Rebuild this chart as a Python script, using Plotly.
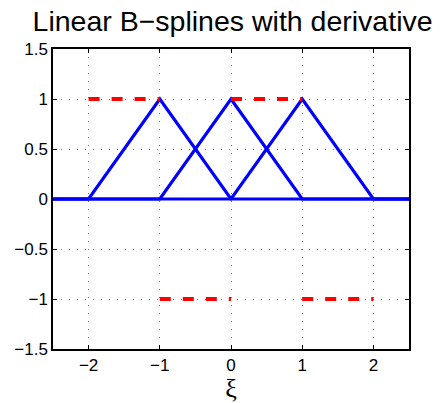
import numpy as np
import plotly.graph_objects as go

# knots and hat-function centres
xi = [-2.5, -2, -1, 0, 1, 2, 2.5]
centres = [-1, 0, 1]
hats = {
    -1: [0, 0, 1, 0, 0, 0, 0],
    0: [0, 0, 0, 1, 0, 0, 0],
    1: [0, 0, 0, 0, 1, 0, 0],
}
# piecewise-constant derivatives (shown for the outer splines)
deriv_x = [[-2, -1], [-1, 0], [0, 1], [1, 2]]
deriv_y = [[1, 1], [-1, -1], [1, 1], [-1, -1]]

x_ticks = [-2, -1, 0, 1, 2]
x_ticktext = ["\u22122", "\u22121", "0", "1", "2"]
y_ticks = [-1.5, -1, -0.5, 0, 0.5, 1, 1.5]
y_ticktext = ["\u22121.5", "\u22121", "\u22120.5", "0", "0.5", "1", "1.5"]

fig = go.Figure()
for c in centres:
    fig.add_trace(go.Scatter(x=xi, y=hats[c], mode="lines",
                             line=dict(color="#0000ff", width=3.2),
                             showlegend=False, hoverinfo="skip"))
for dx, dy in zip(deriv_x, deriv_y):
    fig.add_trace(go.Scatter(x=dx, y=dy, mode="lines",
                             line=dict(color="#ff0000", width=4, dash="11px,12px"),
                             showlegend=False, hoverinfo="skip"))

axis_common = dict(
    showline=True, linecolor="black", linewidth=1.5, mirror="allticks",
    ticks="inside", ticklen=4, tickcolor="black", tickwidth=1,
    showgrid=True, gridcolor="#777777", griddash="1px,7px", gridwidth=1,
    zeroline=False, automargin=False,
    tickfont=dict(family="Liberation Sans, Arial, sans-serif", size=17, color="black"),
)

fig.update_layout(
    width=443, height=403,
    margin=dict(l=53, r=34, t=49, b=54, autoexpand=False),
    paper_bgcolor="white", plot_bgcolor="white",
    title=dict(text="Linear B\u2212splines with derivative",
               font=dict(family="Liberation Sans, Arial, sans-serif", size=28.5, color="black"),
               x=0.525, xanchor="center", y=0.972, yanchor="top"),
    xaxis=dict(range=[-2.5, 2.5], tickvals=x_ticks, ticktext=x_ticktext,
               title=dict(text="\u03be", font=dict(family="Liberation Serif, serif", size=26, color="black"),
                          standoff=5),
               **axis_common),
    yaxis=dict(range=[-1.5, 1.5], tickvals=y_ticks, ticktext=y_ticktext,
               **axis_common),
)

fig.write_html("out.html")
